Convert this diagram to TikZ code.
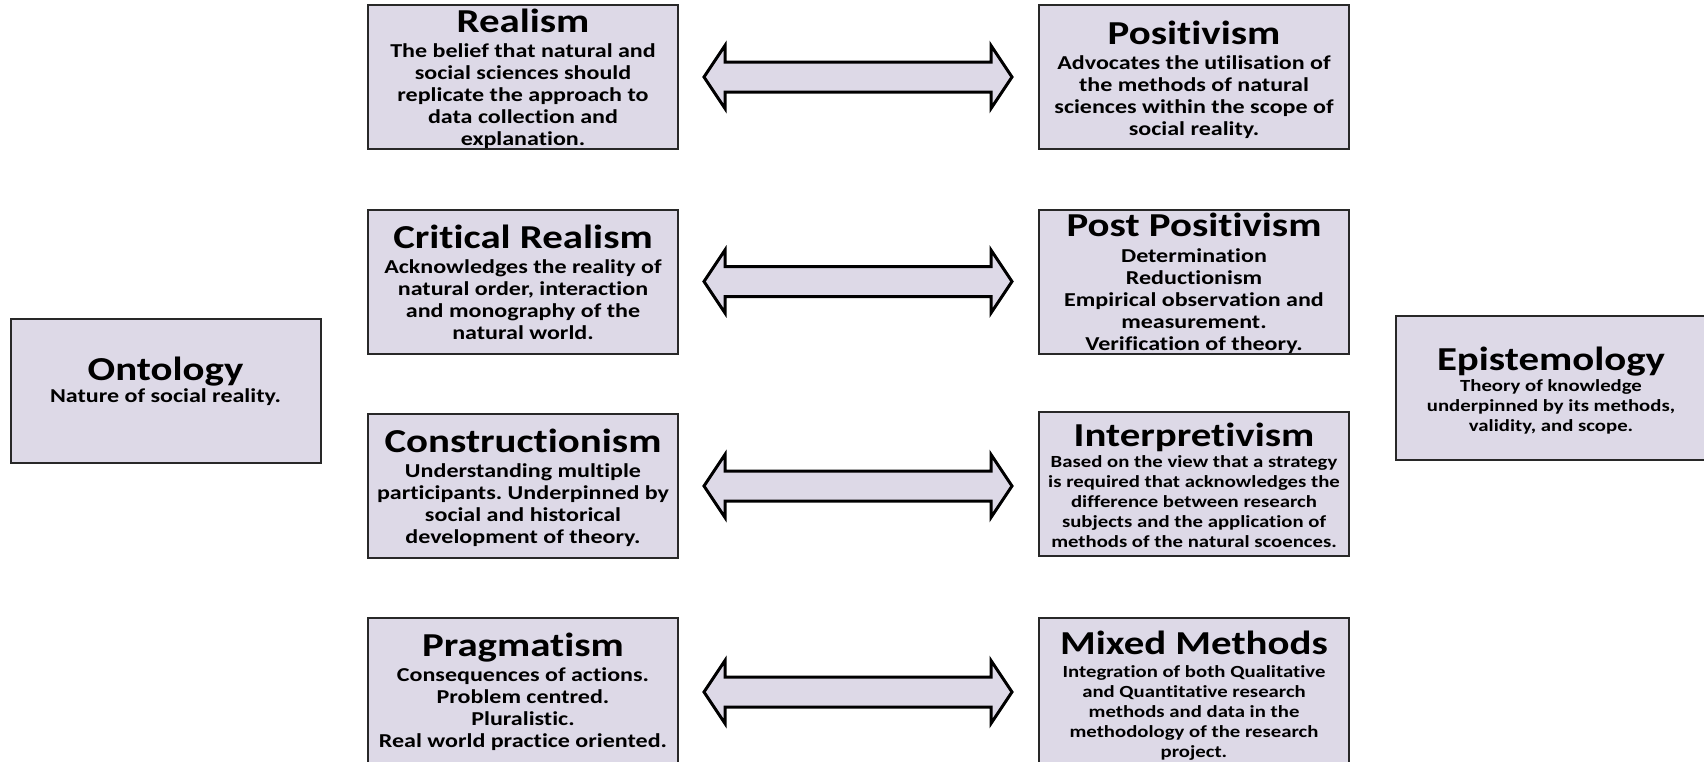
\documentclass[tikz,border=0pt]{standalone}
\usepackage{fontspec}
\setmainfont[FakeStretch=1.22, RawFeature={-liga;-clig;-calt;-dlig},
  BoldFeatures={RawFeature={-liga;-clig;-calt;-dlig}}]{Carlito}
\usetikzlibrary{calc}

\definecolor{panelfill}{RGB}{221,217,231}
\definecolor{panelline}{RGB}{40,40,40}

\newcommand\paneltextsize{\fontsize{19.7}{22}\selectfont\bfseries\frenchspacing}
\newcommand\panelsmallsize{\fontsize{17}{20}\selectfont\bfseries\frenchspacing}
% heading line: strut of cap height so the node top sits on the capitals
\newcommand\ttl[1]{{\fontsize{33.5}{36}\selectfont\rule{0pt}{21.2pt}\smash{#1}}}

% double-headed block arrow between two panels
\newcommand\linkarrow[2]{%
  \draw[blockarrow] let \p1=([xshift=25pt]#1.east), \p2=([xshift=-26pt]#2.west) in
    (\x1,\y1) -- (\x1+21pt,\y1+31.5pt) -- (\x1+21pt,\y1+15pt) -- (\x2-21pt,\y1+15pt)
    -- (\x2-21pt,\y1+31.5pt) -- (\x2,\y1) -- (\x2-21pt,\y1-31.5pt) -- (\x2-21pt,\y1-15pt)
    -- (\x1+21pt,\y1-15pt) -- (\x1+21pt,\y1-31.5pt) -- cycle;}

\tikzset{
  panel/.style={draw=panelline, line width=2pt, fill=panelfill,
    minimum width=310pt, minimum height=144pt, inner sep=0pt},
  paneltext/.style={align=center, inner sep=0pt, anchor=north, font=\paneltextsize},
  panelsmall/.style={paneltext, font=\panelsmallsize},
  blockarrow/.style={draw=black, line width=3pt, fill=panelfill, line join=miter},
}

\begin{document}
\begin{tikzpicture}[x=1pt,y=-1pt]
\useasboundingbox (0,0) rectangle (1704,761);
\fill[white] (0,0) rectangle (1704,761);
\clip (0,0) rectangle (1704,761);

% panels
\node[panel] (realism)   at (523,77)    {};
\node[panel] (positiv)   at (1194,77)   {};
\node[panel] (critreal)  at (523,281.5) {};
\node[panel] (postpos)   at (1194,282)  {};
\node[panel] (construct) at (523,486)   {};
\node[panel] (interpret) at (1194,483.5){};
\node[panel, minimum height=148pt] (pragma) at (523,692) {};
\node[panel, minimum height=148pt] (mixed)  at (1194,692) {};
\node[panel] (ontology)  at (165.5,391) {};
\node[panel, minimum width=312pt] (epistem) at (1552,388) {};

% panel texts
\node[paneltext] (realism-t) at (523,11.4) {\ttl{Realism}\\[3pt]
  The belief that natural and\\ social sciences should\\ replicate the approach to\\
  data collection and\\ explanation.};
\node[paneltext] (positiv-t) at (1194,23.4) {\ttl{Positivism}\\[3pt]
  Advocates the utilisation of\\ the methods of natural\\
  sciences within the scope of\\ social reality.};
\node[paneltext] (critreal-t) at (523,226.8) {\ttl{Critical Realism}\\[3pt]
  Acknowledges the reality of\\ natural order, interaction\\
  and monography of the\\ natural world.};
\node[paneltext] (postpos-t) at (1194,214.8) {\ttl{Post Positivism}\\[4pt]
  Determination\\ Reductionism\\ Empirical observation and\\
  measurement.\\ Verification of theory.};
\node[paneltext] (construct-t) at (523,430.8) {\ttl{Constructionism}\\[3pt]
  Understanding multiple\\ participants. Underpinned by\\
  social and historical\\ development of theory.};
\node[panelsmall] (interpret-t) at (1194,425.5) {\ttl{Interpretivism}\\[1pt]
  Based on the view that a strategy\\ is required that acknowledges the\\
  difference between research\\ subjects and the application of\\
  methods of the natural scoences.};
\node[paneltext] (pragma-t) at (523,634.8) {\ttl{Pragmatism}\\[3pt]
  Consequences of actions.\\ Problem centred.\\ Pluralistic.\\
  Real world practice oriented.};
\node[panelsmall] (mixed-t) at (1194,632.8) {\ttl{Mixed Methods}\\[3pt]
  Integration of both Qualitative\\ and Quantitative research\\
  methods and data in the\\ methodology of the research\\ project.};
\node[paneltext] (ontology-t) at (165.5,358.8) {\ttl{Ontology}\\
  Nature of social reality.};
\node[panelsmall] (epistem-t) at (1551,349.4) {\ttl{Epistemology}\\[1pt]
  Theory of knowledge\\ underpinned by its methods,\\ validity, and scope.};

% links between the two columns
\linkarrow{realism}{positiv}
\linkarrow{critreal}{postpos}
\linkarrow{construct}{interpret}
\linkarrow{pragma}{mixed}
\end{tikzpicture}
\end{document}
